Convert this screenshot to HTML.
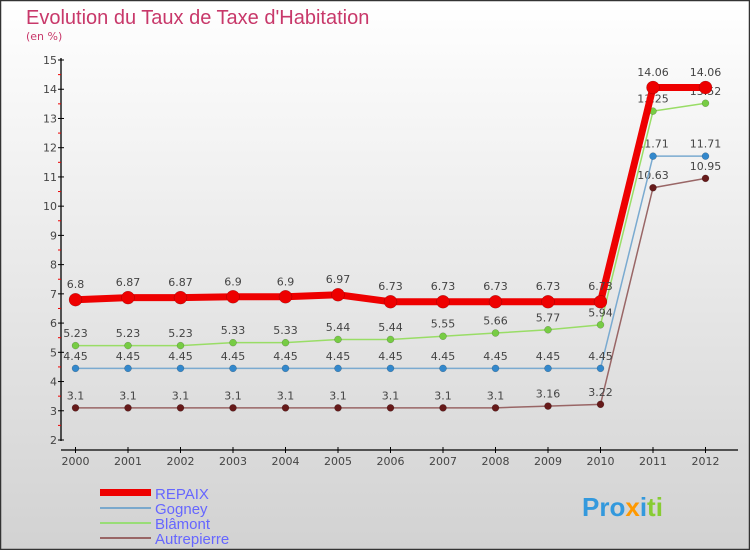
<!DOCTYPE html>
<html><head><meta charset="utf-8"><style>
body{margin:0}
#c{width:750px;height:550px;position:relative;overflow:hidden;font-family:"DejaVu Sans","Liberation Sans",sans-serif}
</style></head><body>
<div id="c">
<svg id="s" width="750" height="550" xmlns="http://www.w3.org/2000/svg">
<defs><linearGradient id="bg" x1="0" y1="0" x2="0" y2="1"><stop offset="0" stop-color="#ffffff"/><stop offset="1" stop-color="#d2d2d2"/></linearGradient></defs>
<rect x="0.5" y="0.5" width="749" height="549" fill="url(#bg)" stroke="#333" stroke-width="1.5"/>
<text x="26" y="24" font-size="20" fill="#c8386a" font-family="Liberation Sans, sans-serif" font-weight="300">Evolution du Taux de Taxe d'Habitation</text>
<text x="26" y="40" font-size="11" fill="#c8386a">(en %)</text>
<g id="axes"></g><g id="series"></g>
<g font-size="15" fill="#6666ff" font-family="Liberation Sans, sans-serif">
<rect x="100" y="489" width="51" height="7" fill="#ee0000"/><text x="155" y="499">REPAIX</text>
<rect x="100" y="507" width="51" height="2" fill="#7aa8cc"/><text x="155" y="514">Gogney</text>
<rect x="100" y="522" width="51" height="2" fill="#99dd77"/><text x="155" y="529">Blâmont</text>
<rect x="100" y="537" width="51" height="2" fill="#996666"/><text x="155" y="544">Autrepierre</text>
</g>
<g font-size="26" font-weight="bold" font-family="Liberation Sans, sans-serif">
<text x="582" y="516" fill="#3399dd">Pro<tspan fill="#ff9900">x</tspan><tspan fill="#3399dd">i</tspan><tspan fill="#88cc33">ti</tspan></text>
</g>
</svg></div>
<script>
const years=["2000","2001","2002","2003","2004","2005","2006","2007","2008","2009","2010","2011","2012"];
const yTicks=[2,3,4,5,6,7,8,9,10,11,12,13,14,15];
const repaix=[6.8,6.87,6.87,6.9,6.9,6.97,6.73,6.73,6.73,6.73,6.73,14.06,14.06];
const gogney=[4.45,4.45,4.45,4.45,4.45,4.45,4.45,4.45,4.45,4.45,4.45,11.71,11.71];
const blamont=[5.23,5.23,5.23,5.33,5.33,5.44,5.44,5.55,5.66,5.77,5.94,13.25,13.52];
const autre=[3.1,3.1,3.1,3.1,3.1,3.1,3.1,3.1,3.1,3.16,3.22,10.63,10.95];
const NS="http://www.w3.org/2000/svg";
const X=i=>75.5+i*52.5, Y=v=>440-(v-2)*29.23;
function el(p,t,a){const e=document.createElementNS(NS,t);for(const k in a)e.setAttribute(k,a[k]);p.appendChild(e);return e;}
const ax=document.getElementById('axes');
let e=el(ax,'line',{x1:61,y1:58,x2:61,y2:441,stroke:'#000','stroke-width':1.3});

e=el(ax,'line',{x1:61,y1:450,x2:738,y2:450,stroke:'#000','stroke-width':1.3});

yTicks.forEach(v=>{el(ax,'line',{x1:58,y1:Y(v),x2:64,y2:Y(v),stroke:'#000'});
 if(v<15)el(ax,'line',{x1:58,y1:Y(v+0.5),x2:61,y2:Y(v+0.5),stroke:'#e00'});
 const t=el(ax,'text',{x:57,y:Y(v)+4,'text-anchor':'end','font-size':11,fill:'#444'});t.textContent=v;
 });
years.forEach((y,i)=>{el(ax,'line',{x1:X(i),y1:447,x2:X(i),y2:453,stroke:'#000'});
 const t=el(ax,'text',{x:X(i),y:465,'text-anchor':'middle','font-size':11,fill:'#444'});t.textContent=y;
 });
const sg=document.getElementById('series');
function draw(name,vals,line,dot,w,r){const g=el(sg,'g',{});
 
 el(g,'polyline',{points:vals.map((v,i)=>X(i)+','+Y(v)).join(' '),fill:'none',stroke:line,'stroke-width':w,'stroke-linejoin':'round'});
 vals.forEach((v,i)=>{const c=el(g,'circle',{cx:X(i),cy:Y(v),r:r,fill:dot,stroke:'rgba(0,0,0,0.3)','stroke-width':0.5});
  
  const t=el(g,'text',{x:X(i),y:Y(v)-r-5,'text-anchor':'middle','font-size':11,fill:'#444'});t.textContent=v;
  });}
draw('autrepierre',autre,'#996666','#661a1a',1.5,3.5);
draw('gogney',gogney,'#7aaad0','#3388cc',1.5,3.5);
draw('blamont',blamont,'#99dd66','#77cc44',1.5,3.5);
draw('repaix',repaix,'#ee0000','#ee0000',7,6.5);
</script>
</body></html>
